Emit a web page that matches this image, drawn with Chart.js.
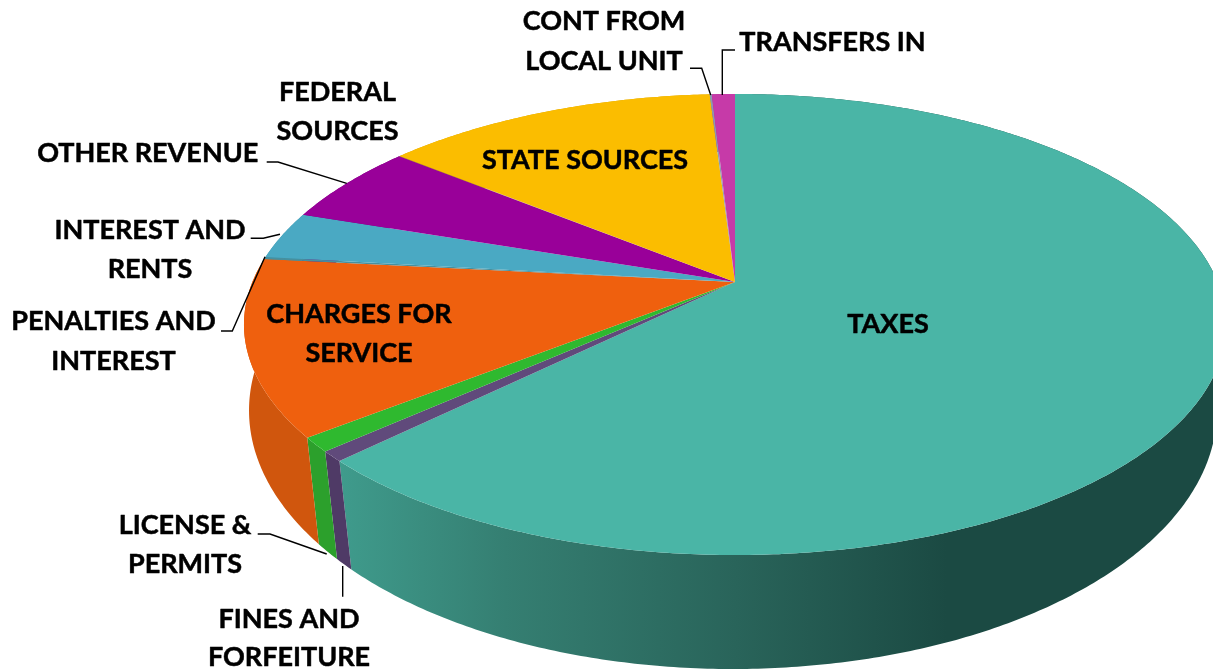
<!DOCTYPE html>
<html>
<head>
<meta charset="utf-8">
<title>Revenue by source</title>
<script src="https://cdn.jsdelivr.net/npm/chart.js@4"></script>
<style>
    html, body { margin: 0; padding: 0; background: #fff; overflow: hidden; }
    canvas { display: block; }
</style>
</head>
<body>
<canvas id="revenueChart" width="1213" height="670"></canvas>
<script>
// Data (share of total, %)
const categories = ['TAXES', 'FINES AND FORFEITURE', 'LICENSE & PERMITS', 'CHARGES FOR SERVICE',
    'PENALTIES AND INTEREST', 'INTEREST AND RENTS', 'OTHER REVENUE', 'FEDERAL SOURCES',
    'STATE SOURCES', 'CONT FROM LOCAL UNIT', 'TRANSFERS IN'];
const shares = [62.67, 0.72, 1.0, 12.31, 0.15, 3.35, 5.67, 0.03, 13.14, 0.08, 0.91];
const topColors = ['#4ab5a6', '#604a7b', '#2fb92f', '#ef600e', '#46909f', '#4aa9c3',
    '#990099', '#8a6a70', '#fbbd00', '#8c9ab0', '#c63aa8'];
const wallColors = [null, '#4f3a66', '#2ca02c', '#d0560d', '#3c7a88', '#3f92a8',
    '#7a007a', '#6a5058', '#d9a300', '#76839a', '#a8308e'];

// Label placement: lines of text with centre x and cap-height centre y
const labelFont = '700 27px Lato';
const labelLayout = [
    { lines: ['TAXES'], x: 888, y: [323] },
    { lines: ['FINES AND', 'FORFEITURE'], x: 289, y: [618, 656.5] },
    { lines: ['LICENSE &', 'PERMITS'], x: 185, y: [524, 563] },
    { lines: ['CHARGES FOR', 'SERVICE'], x: 359, y: [313, 352] },
    { lines: ['PENALTIES AND', 'INTEREST'], x: 113.5, y: [320.7, 360.7] },
    { lines: ['INTEREST AND', 'RENTS'], x: 150, y: [229, 268] },
    { lines: ['OTHER REVENUE'], x: 147.7, y: [152.7] },
    { lines: ['FEDERAL', 'SOURCES'], x: 337.5, y: [91, 130] },
    { lines: ['STATE SOURCES'], x: 585, y: [159] },
    { lines: ['CONT FROM', 'LOCAL UNIT'], x: 604, y: [20.7, 60.7] },
    { lines: ['TRANSFERS IN'], x: 832.5, y: [41] }
];

// Leader lines from the outer labels to their slices
const leaderLines = [
    [[342.7, 566], [342.7, 596.7]],
    [[257.7, 534], [270, 534], [326.7, 554]],
    [[221, 331], [232.3, 331], [265, 256.7]],
    [[250.7, 238.3], [263.3, 238.3], [280, 234.3]],
    [[266.7, 162], [278, 162], [346.7, 183.3]],
    [[690, 68.3], [701.7, 68.3], [710.7, 95]],
    [[735, 50], [722.3, 50], [722.3, 95]]
];

// Perspective of the pie: unit circle -> screen, upper face and lower rim
const topFace = { cx: 735, cy: 282, a: 482.6, b: 222.7, k: 0.1844 };
const lowerRim = { cx: 733, cy: 371.7, a: 478.5, b: 252.7, k: 0.15 };

function project(face, angle) {
    const u = Math.sin(angle);
    const v = -Math.cos(angle);
    const w = 1 - face.k * v;
    return [face.cx + face.a * u / w, face.cy + face.b * v / w];
}

function rimPoints(face, start, end) {
    const steps = Math.max(2, Math.ceil((end - start) / 0.01));
    const pts = [];
    for (let i = 0; i <= steps; i++) {
        pts.push(project(face, start + (end - start) * i / steps));
    }
    return pts;
}

function tracePath(ctx, pts) {
    ctx.beginPath();
    pts.forEach((p, i) => {
        if (i === 0) ctx.moveTo(p[0], p[1]);
        else ctx.lineTo(p[0], p[1]);
    });
    ctx.closePath();
}

// Side shading of the big slice goes dark towards the right
function taxesWallGradient(ctx) {
    const grad = ctx.createLinearGradient(340, 0, 1000, 0);
    grad.addColorStop(0, '#3f9b8c');
    grad.addColorStop(0.25, '#357f72');
    grad.addColorStop(0.6, '#29645a');
    grad.addColorStop(0.92, '#1b4a43');
    grad.addColorStop(1, '#1b4a43');
    return grad;
}

const pie3dPlugin = {
    id: 'pie3d',
    beforeDatasetsDraw(chart) {
        const ctx = chart.ctx;
        const arcs = chart.getDatasetMeta(0).data;
        ctx.save();

        // Walls first, the top faces cover whatever is behind them
        arcs.forEach((arc, i) => {
            const start = arc.startAngle + Math.PI / 2;
            const end = arc.endAngle + Math.PI / 2;
            const upper = rimPoints(topFace, start, end);
            const lower = rimPoints(lowerRim, start, end).reverse();
            const fill = wallColors[i] || taxesWallGradient(ctx);
            tracePath(ctx, upper.concat(lower));
            ctx.fillStyle = fill;
            ctx.fill();
        });

        arcs.forEach((arc, i) => {
            const start = arc.startAngle + Math.PI / 2;
            const end = arc.endAngle + Math.PI / 2;
            const pts = [[topFace.cx, topFace.cy]].concat(rimPoints(topFace, start, end));
            tracePath(ctx, pts);
            ctx.fillStyle = topColors[i];
            ctx.fill();
        });

        ctx.restore();
        return false;
    },
    afterDraw(chart) {
        const ctx = chart.ctx;
        ctx.save();

        ctx.strokeStyle = '#000';
        ctx.lineWidth = 1.4;
        leaderLines.forEach(line => {
            ctx.beginPath();
            line.forEach((p, i) => {
                if (i === 0) ctx.moveTo(p[0], p[1]);
                else ctx.lineTo(p[0], p[1]);
            });
            ctx.stroke();
        });

        // Lato bold is a bit lighter than the original face, so thicken it slightly
        ctx.fillStyle = '#000';
        ctx.lineWidth = 0.5;
        ctx.lineJoin = 'round';
        ctx.font = labelFont;
        ctx.textAlign = 'center';
        ctx.textBaseline = 'alphabetic';
        labelLayout.forEach(label => {
            label.lines.forEach((text, i) => {
                ctx.fillText(text, label.x, label.y[i] + 9.5);
                ctx.strokeText(text, label.x, label.y[i] + 9.5);
            });
        });

        ctx.restore();
    }
};

new Chart(document.getElementById('revenueChart'), {
    type: 'pie',
    data: {
        labels: categories,
        datasets: [{
            data: shares,
            backgroundColor: topColors,
            borderWidth: 0
        }]
    },
    options: {
        responsive: false,
        animation: false,
        events: [],
        plugins: {
            legend: { display: false },
            tooltip: { enabled: false }
        }
    },
    plugins: [pie3dPlugin]
});
</script>
</body>
</html>
